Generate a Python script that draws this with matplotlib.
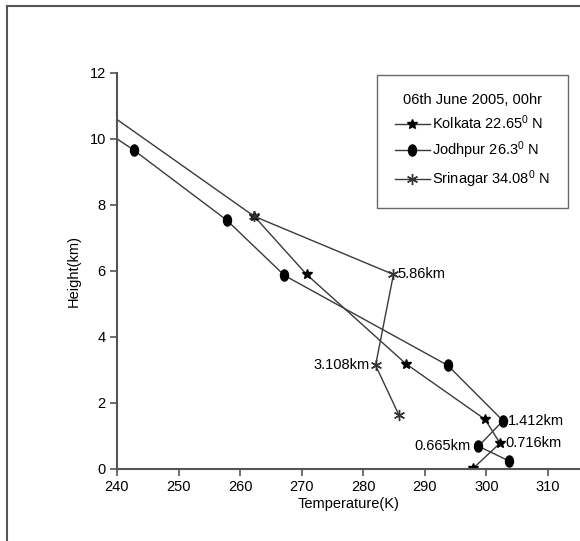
"""
Temperature profiles over three Indian stations, 06 June 2005, 00hr.
"""

import numpy as np
import matplotlib
matplotlib.use("Agg")
import matplotlib.pyplot as plt
from matplotlib.path import Path
from matplotlib.transforms import Affine2D
from matplotlib.lines import Line2D

plt.rcParams['font.family'] = ['Liberation Sans', 'DejaVu Sans']
plt.rcParams['mathtext.fontset'] = 'custom'
plt.rcParams['mathtext.rm'] = 'Liberation Sans'
plt.rcParams['mathtext.it'] = 'Liberation Sans'

# Temperature (K) and height (km)
kolkata_temp = [297.9, 302.2, 299.8, 286.9, 270.8, 262.3, 230.0]
kolkata_height = [0.03, 0.78, 1.50, 3.19, 5.89, 7.65, 11.90]

jodhpur_temp = [303.6, 298.7, 302.7, 293.7, 267.2, 257.8, 242.7, 228.0]
jodhpur_height = [0.25, 0.69, 1.46, 3.14, 5.86, 7.54, 9.66, 11.50]

srinagar_temp = [285.8, 282.0, 284.9, 262.3]
srinagar_height = [1.63, 3.14, 5.89, 7.65]

# annotations: (text, temperature, height, alignment)
notes = [
    ('5.86km', 285.5, 5.89, 'left'),
    ('3.108km', 281.0, 3.14, 'right'),
    ('1.412km', 303.5, 1.46, 'left'),
    ('0.665km', 297.5, 0.69, 'right'),
    ('0.716km', 303.0, 0.78, 'left'),
]

x_ticks = [240, 250, 260, 270, 280, 290, 300, 310]
y_ticks = [0, 2, 4, 6, 8, 10, 12]

# slightly tall ellipse for the Jodhpur marker
ellipse = Path.unit_circle().transformed(Affine2D().scale(0.72, 1.0))


def main():
    fig = plt.figure(figsize=(5.8, 5.41), dpi=100)
    ax = fig.add_axes([0.2017, 0.1331, 0.7983, 0.7325])

    line_col = '#3a3a3a'
    ax.plot(kolkata_temp, kolkata_height, color=line_col, lw=1.0,
            marker='*', ms=7.5, mfc='black', mec='black',
            label=r'Kolkata 22.65$^{0}$ N')
    ax.plot(jodhpur_temp, jodhpur_height, color=line_col, lw=1.0,
            marker=ellipse, ms=8, mfc='black', mec='black',
            label=r'Jodhpur 26.3$^{0}$ N')
    ax.plot(srinagar_temp, srinagar_height, color=line_col, lw=1.0,
            marker=(6, 2, 0), ms=8, mfc='none', mec='#333333', mew=1.0,
            label=r'Srinagar 34.08$^{0}$ N')

    for txt, t, h, ha in notes:
        ax.text(t, h, txt, ha=ha, va='center', fontsize=10.5)

    ax.set_xlim(240, 315.2)
    ax.set_ylim(0, 12)
    ax.set_xticks(x_ticks)
    ax.set_yticks(y_ticks)
    ax.tick_params(direction='out', length=5, width=1.2, color='#555555',
                   labelsize=10.5, pad=3)
    for side in ['top', 'right']:
        ax.spines[side].set_visible(False)
    for side in ['left', 'bottom']:
        ax.spines[side].set_color('#555555')
        ax.spines[side].set_linewidth(1.5)

    ax.set_xlabel('Temperature(K)', fontsize=10.5, labelpad=2)
    ax.set_ylabel('Height(km)', fontsize=10.5, labelpad=6)

    leg = ax.legend(title='06th June 2005, 00hr', fontsize=10.5,
                    title_fontsize=10.5, loc='upper left',
                    bbox_to_anchor=(377 / 580, 1 - 75 / 541),
                    bbox_transform=fig.transFigure,
                    frameon=True, fancybox=False, edgecolor='#444444',
                    handlelength=2.4, handletextpad=0.2, borderpad=1.2,
                    labelspacing=0.5, borderaxespad=0)
    leg.get_frame().set_linewidth(1.0)
    leg.set_clip_on(False)

    # outer border of the original panel (only left and top visible)
    fig.add_artist(Line2D([7 / 580, 7 / 580], [0, 1 - 6 / 541],
                          transform=fig.transFigure, color='#555555', lw=1.5))
    fig.add_artist(Line2D([7 / 580, 1], [1 - 6 / 541, 1 - 6 / 541],
                          transform=fig.transFigure, color='#555555', lw=1.5))

    fig.savefig('out.png', dpi=100)


if __name__ == "__main__":
    main()
